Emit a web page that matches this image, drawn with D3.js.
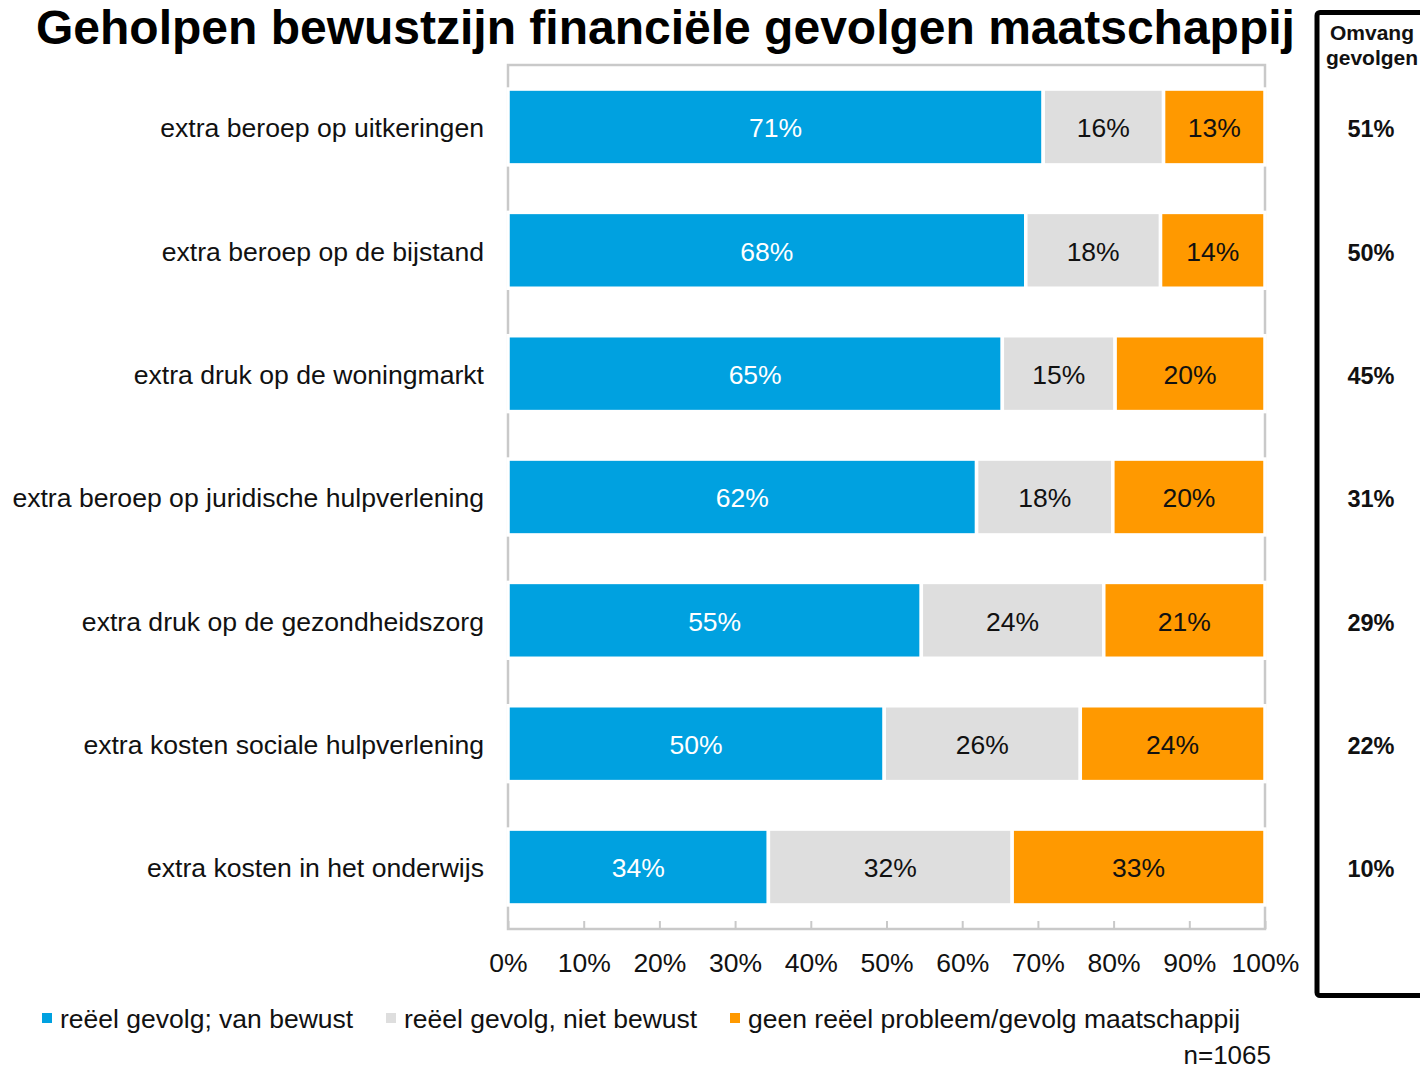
<!DOCTYPE html>
<html><head><meta charset="utf-8">
<script src="https://cdn.jsdelivr.net/npm/d3@7"></script>
<style>body{margin:0;background:#fff} svg{display:block;font-family:"Liberation Sans",Arial,Helvetica,sans-serif}</style>
</head><body><svg id="c" width="1420" height="1069"></svg>
<script>
const title = "Geholpen bewustzijn financiële gevolgen maatschappij";
const categories = [
  "extra beroep op uitkeringen",
  "extra beroep op de bijstand",
  "extra druk op de woningmarkt",
  "extra beroep op juridische hulpverlening",
  "extra druk op de gezondheidszorg",
  "extra kosten sociale hulpverlening",
  "extra kosten in het onderwijs"
];
const seriesNames = ["reëel gevolg; van bewust", "reëel gevolg, niet bewust", "geen reëel probleem/gevolg maatschappij"];
const bewust       = [70.7, 68.4, 65.3, 61.9, 54.6, 49.7, 34.4];
const nietBewust   = [15.9, 17.8, 14.9, 18.0, 24.1, 25.9, 32.2];
const geenProbleem = [13.4, 13.8, 19.8, 20.1, 21.3, 24.4, 33.4];
const omvang = [51, 50, 45, 31, 29, 22, 10];
const omvangTitle = ["Omvang", "gevolgen"];
const xTicks = [0, 10, 20, 30, 40, 50, 60, 70, 80, 90, 100];
const sampleNote = "n=1065";
const colors = ["#00a1e0", "#dedede", "#ff9900"];
const labelColors = ["#ffffff", "#111111", "#111111"];

const svg = d3.select("#c");
const keys = ["b", "n", "g"];
const rows = categories.map((c, i) => ({cat: c, b: bewust[i], n: nietBewust[i], g: geenProbleem[i]}));
const stacked = d3.stack().keys(keys)(rows);

const x = d3.scaleLinear().domain([0, 100]).range([508, 1265]);
const y = d3.scaleBand().domain(categories).range([65, 929]).paddingInner(0.385).paddingOuter(0.195);
const fmt = d3.format(".0f");

// title
svg.append("text").attr("x", 36).attr("y", 44)
  .attr("font-size", 48).attr("font-weight", "bold").attr("fill", "#000").text(title);

// plot frame
svg.append("rect").attr("x", x(0)).attr("y", 65).attr("width", x(100) - x(0)).attr("height", 929 - 65)
  .attr("fill", "none").attr("stroke", "#c9c9c9").attr("stroke-width", 2.5);

// x axis ticks & labels
const ax = svg.append("g").attr("transform", "translate(0,929)")
  .call(d3.axisBottom(x).tickValues(xTicks).tickSize(-8).tickPadding(24).tickFormat(d => d + "%"));
ax.select(".domain").remove();
ax.selectAll(".tick line").attr("stroke", "#c9c9c9").attr("stroke-width", 2);
ax.selectAll(".tick text").attr("font-size", 26.5).attr("fill", "#111").attr("font-family", null);

// bars
const layers = svg.append("g").selectAll("g").data(stacked).join("g")
  .attr("fill", (d, i) => colors[i]);
layers.selectAll("rect").data(d => d).join("rect")
  .attr("x", d => x(d[0])).attr("width", d => x(d[1]) - x(d[0]))
  .attr("y", d => y(d.data.cat)).attr("height", y.bandwidth())
  .attr("stroke", "#fff").attr("stroke-width", 3.5);

// value labels
stacked.forEach((layer, li) => {
  svg.append("g").selectAll("text").data(layer).join("text")
    .attr("x", d => (x(d[0]) + x(d[1])) / 2)
    .attr("y", d => y(d.data.cat) + y.bandwidth() / 2 + 1)
    .attr("dy", "0.35em").attr("text-anchor", "middle")
    .attr("font-size", 26.5).attr("fill", labelColors[li])
    .text(d => fmt(d[1] - d[0]) + "%");
});

// category labels
svg.append("g").selectAll("text").data(categories).join("text")
  .attr("x", 484).attr("y", d => y(d) + y.bandwidth() / 2 + 1).attr("dy", "0.35em")
  .attr("text-anchor", "end").attr("font-size", 26.6).attr("fill", "#111").text(d => d);

// right box
svg.append("rect").attr("x", 1317).attr("y", 12.5).attr("width", 200).attr("height", 983)
  .attr("rx", 3).attr("fill", "none").attr("stroke", "#000").attr("stroke-width", 5);
svg.append("g").selectAll("text").data(omvangTitle).join("text")
  .attr("x", 1372).attr("y", (d, i) => 40 + i * 25).attr("text-anchor", "middle")
  .attr("font-size", 21).attr("font-weight", "bold").attr("fill", "#111").text(d => d);
svg.append("g").selectAll("text").data(omvang).join("text")
  .attr("x", 1371).attr("y", (d, i) => y(categories[i]) + y.bandwidth() / 2 + 2).attr("dy", "0.35em")
  .attr("text-anchor", "middle").attr("font-size", 23.5).attr("font-weight", "bold").attr("fill", "#111")
  .text(d => d + "%");

// legend
const legX = [42, 386, 730];
const leg = svg.append("g").selectAll("g").data(seriesNames).join("g")
  .attr("transform", (d, i) => `translate(${legX[i]},1013)`);
leg.append("rect").attr("width", 10).attr("height", 10).attr("fill", (d, i) => colors[i]);
leg.append("text").attr("x", 18).attr("y", 15).attr("font-size", 26.5).attr("fill", "#111").text(d => d);

// sample note
svg.append("text").attr("x", 1271).attr("y", 1064).attr("text-anchor", "end")
  .attr("font-size", 26).attr("fill", "#111").text(sampleNote);
</script></body></html>
